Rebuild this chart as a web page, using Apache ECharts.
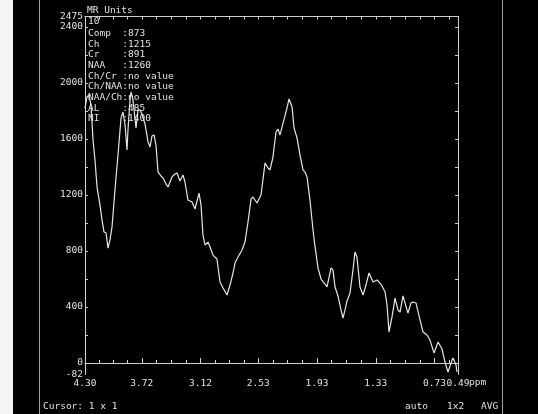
<!DOCTYPE html>
<html>
<head>
<meta charset="utf-8">
<script src="https://cdn.jsdelivr.net/npm/echarts@6/dist/echarts.min.js"></script>
<style>
  html, body { margin: 0; padding: 0; background: #000; }
  #chart { width: 538px; height: 414px; }
</style>
</head>
<body>
<div id="chart"></div>
<script>
// Chemical shift (ppm) of each spectrum sample
const ppm = [
  4.300, 4.280, 4.259, 4.239, 4.218, 4.198, 4.177, 4.147, 4.126, 4.106,
  4.085, 4.065, 4.045, 4.024, 3.994, 3.963, 3.932, 3.912, 3.891, 3.871,
  3.861, 3.840, 3.830, 3.810, 3.779, 3.759, 3.738, 3.718, 3.687, 3.656,
  3.636, 3.616, 3.595, 3.575, 3.554, 3.524, 3.503, 3.473, 3.452, 3.411,
  3.381, 3.360, 3.330, 3.299, 3.279, 3.248, 3.207, 3.176, 3.135, 3.115,
  3.095, 3.074, 3.044, 3.023, 2.993, 2.952, 2.921, 2.890, 2.849, 2.819,
  2.788, 2.768, 2.737, 2.696, 2.666, 2.635, 2.604, 2.584, 2.543, 2.502,
  2.461, 2.431, 2.410, 2.380, 2.349, 2.328, 2.308, 2.277, 2.237, 2.216,
  2.185, 2.165, 2.134, 2.104, 2.073, 2.053, 2.032, 2.002, 1.971, 1.950,
  1.920, 1.889, 1.848, 1.828, 1.787, 1.767, 1.746, 1.716, 1.685, 1.665,
  1.644, 1.624, 1.593, 1.563, 1.542, 1.522, 1.491, 1.460, 1.430, 1.399,
  1.358, 1.317, 1.287, 1.266, 1.235, 1.215, 1.195, 1.164, 1.133, 1.103,
  1.082, 1.052, 1.011, 1.001, 0.970, 0.949, 0.919, 0.888, 0.847, 0.806,
  0.776, 0.735, 0.694, 0.653, 0.623, 0.592, 0.551, 0.541, 0.510, 0.500
];

// Signal amplitude in MR units at each sample
const mrUnits = [
  1821, 1900, 1914, 1843, 1593, 1450, 1257, 1129, 1021, 936,
  929, 821, 879, 971, 1236, 1486, 1750, 1793, 1700, 1521,
  1664, 1879, 1936, 1879, 1679, 1807, 1807, 1779, 1707, 1579,
  1543, 1621, 1629, 1557, 1364, 1336, 1321, 1279, 1257, 1329,
  1350, 1357, 1300, 1343, 1293, 1164, 1150, 1100, 1214, 1129,
  914, 843, 864, 829, 771, 743, 579, 536, 486, 557,
  643, 714, 757, 807, 864, 1007, 1171, 1186, 1143, 1200,
  1429, 1393, 1379, 1471, 1650, 1671, 1629, 1714, 1821, 1886,
  1829, 1679, 1607, 1486, 1379, 1364, 1329, 1164, 950, 829,
  679, 600, 564, 543, 679, 664, 543, 479, 379, 321,
  379, 443, 500, 664, 793, 757, 543, 486, 557, 643,
  579, 593, 571, 550, 507, 414, 221, 329, 464, 379,
  364, 479, 379, 357, 429, 436, 429, 336, 221, 200,
  164, 71, 150, 100, 7, -64, 21, 36, -14, -64
];

// Axis ranges and tick labels
const ppmLabels = [4.30, 3.72, 3.12, 2.53, 1.93, 1.33, 0.73, 0.49];
const ppmMinorTicks = [4.155, 4.01, 3.865, 3.57, 3.42, 3.27, 2.97, 2.825, 2.675,
  2.38, 2.23, 2.08, 1.78, 1.63, 1.48, 1.18, 1.03, 0.88, 0.58];
const yLabels = [-82, 0, 400, 800, 1200, 1600, 2000, 2400, 2475];
const yTicks = [0, 200, 400, 600, 800, 1000, 1200, 1400, 1600, 1800, 2000, 2200, 2400];
const yMin = -82, yMax = 2475;

// Metabolite readout shown in the upper-left corner
const readoutTitle = '10';
const readoutNames = ['Comp', 'Ch', 'Cr', 'NAA', 'Ch/Cr', 'Ch/NAA', 'NAA/Ch', 'AL', 'NI'];
const readoutValues = ['873', '1215', '891', '1260', 'no value', 'no value', 'no value', '485', '1400'];

const FONT = '"DejaVu Sans Mono", "Liberation Mono", monospace';
const TXT = '#e2e2e2';
const AXIS = '#cfcfcf';

const chart = echarts.init(document.getElementById('chart'), null, { renderer: 'canvas' });

const readoutLines = readoutNames.map((n, i) => (n + '      ').slice(0, 6) + ':' + readoutValues[i]);

const graphics = [
  { type: 'rect', shape: { x: 0, y: 0, width: 13, height: 414 }, style: { fill: '#f4f4f4' }, silent: true },
  { type: 'line', shape: { x1: 39.5, y1: 0, x2: 39.5, y2: 414 }, style: { stroke: '#a0a0a0', lineWidth: 1 } },
  { type: 'line', shape: { x1: 502.5, y1: 0, x2: 502.5, y2: 414 }, style: { stroke: '#a0a0a0', lineWidth: 1 } },
  { type: 'text', left: 87, top: 6, style: { text: 'MR Units', fill: TXT, font: '9.5px ' + FONT } },
  { type: 'text', left: 88, top: 17, style: { text: readoutTitle, fill: TXT, font: '9.5px ' + FONT } },
  { type: 'text', left: 88, top: 28, style: { text: readoutLines.join('\n'), fill: TXT, font: '9.5px ' + FONT, lineHeight: 10.7 } },
  { type: 'text', left: 469, top: 378, style: { text: 'ppm', fill: TXT, font: '9.5px ' + FONT } },
  { type: 'text', left: 43, top: 402, style: { text: 'Cursor: 1 x 1', fill: TXT, font: '9.5px ' + FONT } },
  { type: 'text', left: 405, top: 402, style: { text: 'auto', fill: TXT, font: '9.5px ' + FONT } },
  { type: 'text', left: 447, top: 402, style: { text: '1x2', fill: TXT, font: '9.5px ' + FONT } },
  { type: 'text', left: 481, top: 402, style: { text: 'AVG', fill: TXT, font: '9.5px ' + FONT } }
];

const xBase = {
  type: 'value', inverse: true, min: 0.49, max: 4.30,
  splitLine: { show: false }
};
const yBase = {
  type: 'value', min: yMin, max: yMax,
  splitLine: { show: false }
};

chart.setOption({
  backgroundColor: '#000',
  animation: false,
  grid: { left: 85, right: 80, top: 16.5, bottom: 39.5, containLabel: false },
  graphic: graphics,
  xAxis: [
    Object.assign({}, xBase, {
      position: 'bottom',
      axisLine: { show: true, lineStyle: { color: AXIS, width: 1 } },
      axisTick: { show: true, inside: true, length: 5, customValues: ppmLabels, lineStyle: { color: AXIS } },
      axisLabel: {
        customValues: ppmLabels, color: TXT, fontFamily: FONT, fontSize: 9.5, margin: 4,
        formatter: v => v.toFixed(2)
      }
    }),
    Object.assign({}, xBase, {
      position: 'bottom',
      axisLine: { show: false },
      axisTick: { show: true, inside: true, length: 3, customValues: ppmMinorTicks, lineStyle: { color: AXIS } },
      axisLabel: { show: false }
    }),
    Object.assign({}, xBase, {
      position: 'top',
      axisLine: { show: true, lineStyle: { color: AXIS, width: 1 } },
      axisTick: { show: true, inside: true, length: 3, customValues: ppmLabels.concat(ppmMinorTicks), lineStyle: { color: AXIS } },
      axisLabel: { show: false }
    })
  ],
  yAxis: [
    Object.assign({}, yBase, {
      position: 'left',
      axisLine: { show: true, lineStyle: { color: AXIS, width: 1 } },
      axisTick: { show: true, inside: true, length: 3, customValues: yTicks, lineStyle: { color: AXIS } },
      axisLabel: {
        customValues: yLabels, color: TXT, fontFamily: FONT, fontSize: 9.5, margin: 2,
        padding: [0, 0, 6, 0],
        formatter: v => String(v)
      }
    }),
    Object.assign({}, yBase, {
      position: 'right',
      axisLine: { show: true, lineStyle: { color: AXIS, width: 1 } },
      axisTick: { show: true, inside: true, length: 3, customValues: yTicks, lineStyle: { color: AXIS } },
      axisLabel: { show: false }
    })
  ],
  series: [{
    type: 'line',
    xAxisIndex: 0,
    yAxisIndex: 0,
    data: ppm.map((p, i) => [p, mrUnits[i]]),
    showSymbol: false,
    smooth: false,
    clip: true,
    lineStyle: { color: '#e6e6e6', width: 1.2 }
  }]
});
</script>
</body>
</html>
